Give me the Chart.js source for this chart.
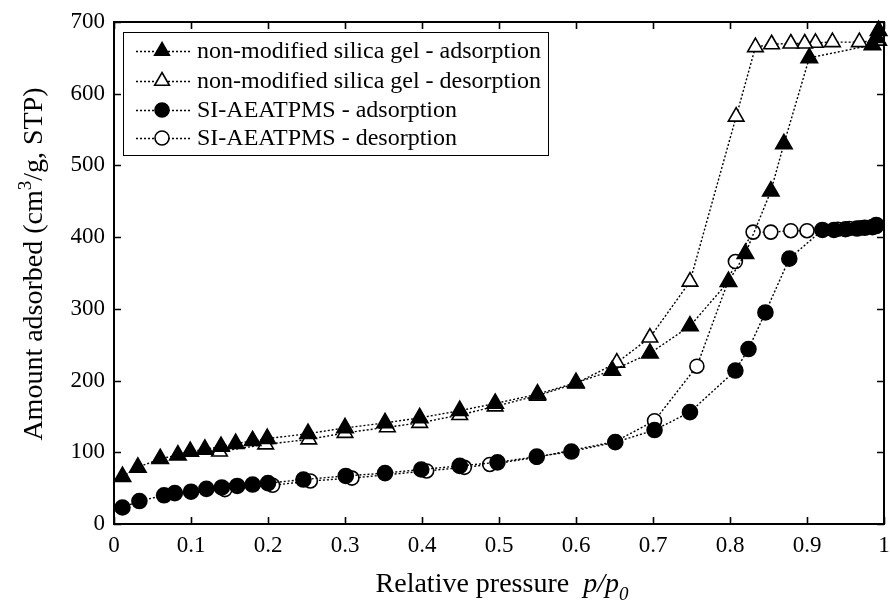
<!DOCTYPE html>
<html><head><meta charset="utf-8">
<script src="https://cdn.jsdelivr.net/npm/chart.js@4.4.0/dist/chart.umd.min.js"></script>
<style>html,body{margin:0;padding:0;background:#fff}canvas{display:block}</style>
</head><body>
<canvas id="c" width="890" height="604"></canvas>
<script>
// ---- tick labels ----
const xTickLabels = ['0','0.1','0.2','0.3','0.4','0.5','0.6','0.7','0.8','0.9','1'];
const yTickLabels = ['0','100','200','300','400','500','600','700'];

// ---- series names ----
const seriesNames = [
  'non-modified silica gel - adsorption',
  'non-modified silica gel - desorption',
  'SI-AEATPMS - adsorption',
  'SI-AEATPMS - desorption'
];

// ---- non-modified silica gel, adsorption ----
const silAdsP = [0.011,0.031,0.06,0.083,0.099,0.118,0.139,0.158,0.18,0.199,0.252,0.3,0.352,0.397,0.449,0.495,0.55,0.6,0.647,0.696,0.748,0.798,0.82,0.853,0.87,0.903,0.985,0.99,0.993];
const silAdsV = [66,79,91,96,101,104,108,112,116,119,126,134,141,148,158,168,181,197,214,238,276,338,377,464,530,650,668,678,688];

// ---- non-modified silica gel, desorption ----
const silDesP = [0.993,0.968,0.933,0.911,0.897,0.879,0.854,0.833,0.808,0.748,0.696,0.653,0.6,0.55,0.495,0.449,0.397,0.355,0.3,0.253,0.197,0.137];
const silDesV = [674,672,672,671,670,670,669,665,568,338,260,225,196,179,164,152,141,135,127,118,111,101];

// ---- SI-AEATPMS, adsorption ----
const aeaAdsP = [0.011,0.033,0.065,0.079,0.1,0.12,0.14,0.16,0.18,0.2,0.246,0.301,0.352,0.399,0.449,0.498,0.549,0.594,0.651,0.702,0.748,0.807,0.824,0.846,0.877,0.92,0.935,0.95,0.965,0.975,0.985,0.99];
const aeaAdsV = [23,32,40,43,45,49,51,53,55,57,62,67,71,76,81,86,94,101,114,131,156,214,244,295,370,410,410,411,412,413,414,417];

// ---- SI-AEATPMS, desorption ----
const aeaDesP = [0.99,0.97,0.955,0.94,0.9,0.879,0.853,0.83,0.807,0.757,0.702,0.651,0.549,0.488,0.455,0.406,0.309,0.255,0.206,0.144];
const aeaDesV = [415,413,412,411,409,409,407,407,366,220,144,115,93,83,79,74,64,60,54,48];

const toXY = (ps, vs) => ps.map((p, i) => ({x: p, y: vs[i]}));

const FONT = "'Liberation Serif','Times New Roman',serif";
Chart.defaults.font.family = FONT;
Chart.defaults.color = '#000';

function ds(label, pts, style, open, order, r) {
  return {
    label, data: pts, order,
    showLine: true,
    borderColor: '#000', borderWidth: 1.4, borderDash: [2, 2],
    pointStyle: style, pointRadius: r, pointHoverRadius: r,
    pointBackgroundColor: open ? '#fff' : '#000',
    pointBorderColor: '#000', pointBorderWidth: 1.6,
    fill: false, tension: 0, clip: false
  };
}

const datasets = [
  ds(seriesNames[0], toXY(silAdsP, silAdsV), 'triangle', false, 0, 9.5),
  ds(seriesNames[1], toXY(silDesP, silDesV), 'triangle', true, 1, 9),
  ds(seriesNames[2], toXY(aeaAdsP, aeaAdsV), 'circle', false, 0, 7.5),
  ds(seriesNames[3], toXY(aeaDesP, aeaDesV), 'circle', true, 1, 7)
];

const framePlugin = {
  id: 'frame',
  afterDraw(chart) {
    const {ctx, chartArea: a, scales} = chart;
    ctx.save();
    ctx.strokeStyle = '#000';
    ctx.lineWidth = 1.6;
    ctx.setLineDash([]);
    ctx.beginPath();
    scales.x.ticks.forEach(t => {
      const px = Math.round(scales.x.getPixelForValue(t.value)) + 0.5;
      ctx.moveTo(px, a.bottom); ctx.lineTo(px, a.bottom - 7);
      ctx.moveTo(px, a.top); ctx.lineTo(px, a.top + 7);
    });
    scales.y.ticks.forEach(t => {
      const py = Math.round(scales.y.getPixelForValue(t.value)) + 0.5;
      ctx.moveTo(a.left, py); ctx.lineTo(a.left + 7, py);
      ctx.moveTo(a.right, py); ctx.lineTo(a.right - 7, py);
    });
    ctx.stroke();
    ctx.lineWidth = 2;
    ctx.strokeRect(a.left, a.top, a.right - a.left, a.bottom - a.top);
    ctx.restore();
  }
};

const legendPlugin = {
  id: 'boxLegend',
  afterDraw(chart) {
    const {ctx} = chart;
    ctx.save();
    const bx = 123, by = 32, bw = 425, bh = 123;
    ctx.fillStyle = '#fff';
    ctx.fillRect(bx, by, bw, bh);
    ctx.strokeStyle = '#000';
    ctx.lineWidth = 1;
    ctx.strokeRect(bx + 0.5, by + 0.5, bw, bh);
    const rows = [51, 81, 110, 138];
    chart.data.datasets.forEach((d, i) => {
      const y = rows[i];
      ctx.strokeStyle = '#000';
      ctx.lineWidth = 1.4;
      ctx.setLineDash([2, 2]);
      ctx.beginPath();
      ctx.moveTo(136, y + 0.5); ctx.lineTo(190, y + 0.5);
      ctx.stroke();
      ctx.setLineDash([]);
      ctx.fillStyle = d.pointBackgroundColor;
      ctx.strokeStyle = '#000';
      ctx.lineWidth = 1.6;
      Chart.helpers.drawPoint(ctx, {pointStyle: d.pointStyle, radius: d.pointStyle === 'triangle' ? 8.5 : 7, rotation: 0, borderWidth: 1.6}, 162, y);
      ctx.fillStyle = '#000';
      ctx.font = '24px ' + FONT;
      ctx.textBaseline = 'middle';
      ctx.textAlign = 'left';
      ctx.fillText(d.label, 197, y + 1);
    });
    ctx.restore();
  }
};

const titlePlugin = {
  id: 'axisTitles',
  afterDraw(chart) {
    const {ctx} = chart;
    ctx.save();
    ctx.fillStyle = '#000';
    ctx.textBaseline = 'alphabetic';
    ctx.textAlign = 'left';
    const big = '28px ' + FONT, bigI = 'italic 28px ' + FONT, subI = 'italic 19px ' + FONT;
    const parts = [['Relative pressure  ', big, 0], ['p/p', bigI, 0], ['0', subI, 8]];
    let w = 0;
    parts.forEach(p => { ctx.font = p[1]; w += ctx.measureText(p[0]).width; });
    let x = 502 - w / 2;
    const base = 592;
    parts.forEach(p => { ctx.font = p[1]; ctx.fillText(p[0], x, base + p[2]); x += ctx.measureText(p[0]).width; });
    ctx.translate(42, 264);
    ctx.rotate(-Math.PI / 2);
    const yparts = [['Amount adsorbed (cm', big, 0], ['3', '19px ' + FONT, -11], ['/g, STP)', big, 0]];
    w = 0;
    yparts.forEach(p => { ctx.font = p[1]; w += ctx.measureText(p[0]).width; });
    x = -w / 2;
    yparts.forEach(p => { ctx.font = p[1]; ctx.fillText(p[0], x, p[2]); x += ctx.measureText(p[0]).width; });
    ctx.restore();
  }
};

new Chart(document.getElementById('c'), {
  type: 'line',
  data: {datasets},
  options: {
    responsive: false,
    animation: false,
    events: [],
    layout: {autoPadding: false, padding: {top: 22, right: 6, left: 0, bottom: 0}},
    plugins: {legend: {display: false}, tooltip: {enabled: false}},
    scales: {
      x: {
        type: 'linear', min: 0, max: 1,
        ticks: {stepSize: 0.1, padding: 8, font: {size: 23}, color: '#000',
                maxRotation: 0, autoSkip: false,
                callback: (v, i) => xTickLabels[i]},
        grid: {display: false, drawTicks: false},
        border: {display: false},
        afterFit(s) { s.height = 80; s.paddingLeft = 0; s.paddingRight = 0; }
      },
      y: {
        type: 'linear', min: 0, max: 700,
        ticks: {stepSize: 100, padding: 9, font: {size: 23}, color: '#000',
                callback: (v, i) => yTickLabels[i]},
        grid: {display: false, drawTicks: false},
        border: {display: false},
        afterFit(s) { s.width = 114; s.paddingTop = 0; s.paddingBottom = 0; }
      }
    }
  },
  plugins: [framePlugin, legendPlugin, titlePlugin]
});
</script>
</body></html>
